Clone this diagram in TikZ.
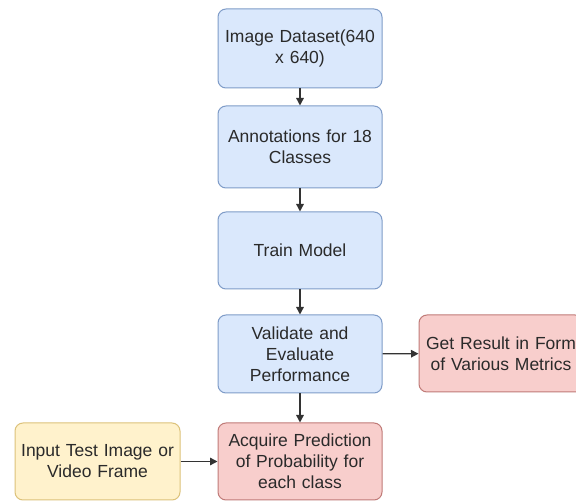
\documentclass[tikz,border=0pt]{standalone}
\usepackage{fontspec}
\setmainfont{Liberation Sans}
\usetikzlibrary{arrows.meta}
\definecolor{bluefill}{HTML}{DAE8FC}
\definecolor{bluedraw}{HTML}{7F9CC8}
\definecolor{redfill}{HTML}{F8CECC}
\definecolor{reddraw}{HTML}{C07B78}
\definecolor{yelfill}{HTML}{FFF2CC}
\definecolor{yeldraw}{HTML}{DCC27A}
\definecolor{txt}{HTML}{2A2A2A}
\tikzset{
  x=1pt, y=1pt,
  box/.style={rounded corners=8pt, line width=1pt, minimum width=164pt,
    text width=158pt, align=center, inner sep=0pt, text=txt,
    font=\fontsize{17.5}{21}\selectfont},
  bluebox/.style={box, fill=bluefill, draw=bluedraw},
  redbox/.style={box, fill=redfill, draw=reddraw},
  yelbox/.style={box, fill=yelfill, draw=yeldraw},
  conn/.style={draw=black!80, line width=1.4pt, -{Triangle[length=7.5pt,width=7.5pt]}}
}
\begin{document}
\begin{tikzpicture}
\clip (0,0) rectangle (576,-502);
\fill[white] (0,0) rectangle (576,-502);
\node[bluebox, minimum height=79pt] (b1) at (300,-48.5) {Image Dataset(640\\ x 640)};
\node[bluebox, minimum height=82pt] (b2) at (300,-147) {Annotations for 18\\Classes};
\node[bluebox, minimum height=77pt] (b3) at (300,-250.5) {Train Model};
\node[bluebox, minimum height=78pt] (b4) at (300,-354) {Validate and\\Evaluate\\Performance};
\node[redbox, minimum height=77pt] (b5) at (300,-461.5) {Acquire Prediction\\of Probability for\\each class};
\node[redbox, minimum height=77pt] (r) at (501,-353.5) {Get Result in Form\\of Various Metrics};
\node[yelbox, minimum height=77pt, minimum width=165pt] (y) at (97.5,-461.5) {Input Test Image or\\Video Frame};
\draw[conn] (b1) -- (b2);
\draw[conn] (b2) -- (b3);
\draw[conn] (b3) -- (b4);
\draw[conn] (b4) -- (b5);
\draw[conn] (b4) -- (r);
\draw[conn] (y) -- (b5);
\end{tikzpicture}
\end{document}
